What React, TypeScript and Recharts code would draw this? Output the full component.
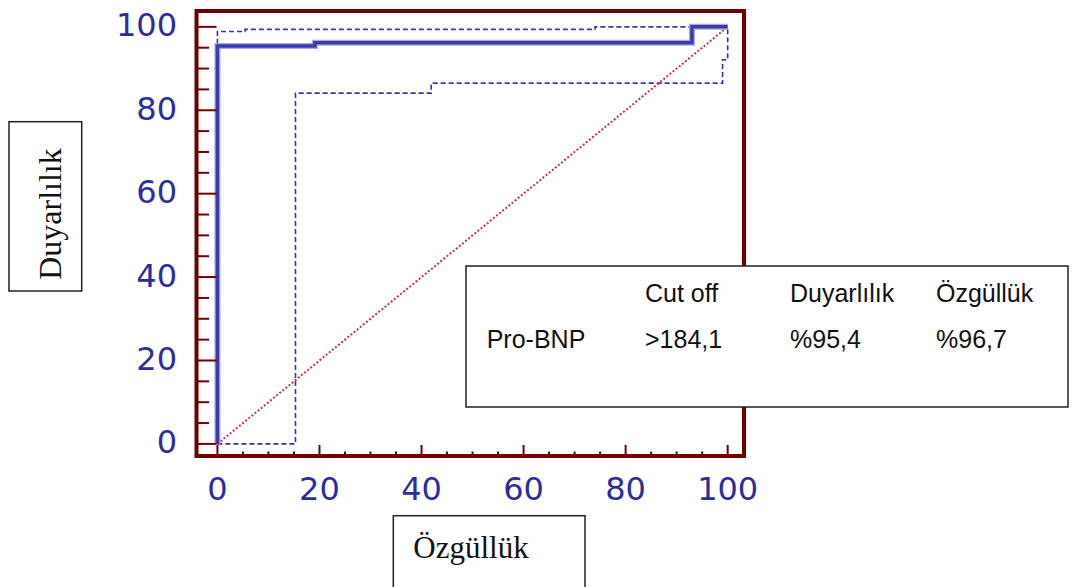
import { LineChart, Line, XAxis, YAxis, ReferenceArea } from 'recharts';

// ROC eğrisi ve %95 güven aralığı (resimden okunan köşe noktaları)
const rocCurve = [
  { x: 0, y: 0 },
  { x: 0, y: 95.4 },
  { x: 19.1, y: 95.4 },
  { x: 19.1, y: 96.2 },
  { x: 93, y: 96.2 },
  { x: 93, y: 100 },
  { x: 100, y: 100 },
];

const upperCI = [
  { x: 0, y: 0 },
  { x: 0, y: 98.9 },
  { x: 5.4, y: 98.9 },
  { x: 5.4, y: 99.4 },
  { x: 74, y: 99.4 },
  { x: 74, y: 100 },
  { x: 100, y: 100 },
];

const lowerCI = [
  { x: 0, y: 0 },
  { x: 15.3, y: 0 },
  { x: 15.3, y: 84.1 },
  { x: 41.9, y: 84.1 },
  { x: 41.9, y: 86.5 },
  { x: 99, y: 86.5 },
  { x: 99, y: 92.1 },
  { x: 100, y: 92.1 },
  { x: 100, y: 100 },
];

const diagonal = [
  { x: 0, y: 0 },
  { x: 100, y: 100 },
];

const axisTicks = [0, 5, 10, 15, 20, 25, 30, 35, 40, 45, 50, 55, 60, 65, 70, 75, 80, 85, 90, 95, 100];

const tableHeader = ['Cut off', 'Duyarlılık', 'Özgüllük'];
const tableRow = ['Pro-BNP', '>184,1', '%95,4', '%96,7'];

const FRAME = '#6e0000';
const LABEL = '#2c2ca2';
const X_DOMAIN = [-4.1, 103.2];
const Y_DOMAIN = [-2.9, 103.8];

function BottomTick(props: any) {
  const { x, y, payload } = props;
  const major = payload.value % 20 === 0;
  return (
    <g>
      <line x1={x} y1={y} x2={x} y2={y - (major ? 11 : 4.5)} stroke={FRAME} strokeWidth={2} />
      {major && (
        <text x={x} y={y + 44} textAnchor="middle" fill={LABEL}
          style={{ fontFamily: '"DejaVu Sans", sans-serif', fontSize: 32 }}>
          {payload.value}
        </text>
      )}
    </g>
  );
}

function LeftTick(props: any) {
  const { x, y, payload } = props;
  const major = payload.value % 20 === 0;
  return (
    <g>
      <line x1={x} y1={y} x2={x + (major ? 20 : 12.5)} y2={y} stroke={FRAME} strokeWidth={2} />
      {major && (
        <text x={x - 19.5} y={y + 9.5} textAnchor="end" fill={LABEL}
          style={{ fontFamily: '"DejaVu Sans", sans-serif', fontSize: 32 }}>
          {payload.value}
        </text>
      )}
    </g>
  );
}

export default function App() {
  const colX = [645, 790, 936];
  return (
    <div style={{ position: 'absolute', left: 0, top: 0, width: 1073, height: 587, background: '#fff', overflow: 'hidden' }}>
      <LineChart width={1073} height={587} margin={{ top: 11, right: 329, bottom: 71, left: 0 }}>
        <XAxis dataKey="x" type="number" domain={X_DOMAIN} ticks={axisTicks} allowDataOverflow
          height={60} axisLine={false} tickLine={false} tickSize={0} tickMargin={0}
          tick={<BottomTick />} interval={0} />
        <YAxis dataKey="y" type="number" domain={Y_DOMAIN} ticks={axisTicks} allowDataOverflow
          width={196.5} axisLine={false} tickLine={false} tickSize={0} tickMargin={0}
          tick={<LeftTick />} interval={0} />
        <ReferenceArea x1={X_DOMAIN[0]} x2={X_DOMAIN[1]} y1={Y_DOMAIN[0]} y2={Y_DOMAIN[1]}
          fill="none" stroke={FRAME} strokeWidth={4} fillOpacity={0} />
        <Line data={upperCI} dataKey="y" type="linear" stroke="#3434a8" strokeWidth={1.6}
          strokeDasharray="5 3" dot={false} isAnimationActive={false} />
        <Line data={lowerCI} dataKey="y" type="linear" stroke="#3434a8" strokeWidth={1.6}
          strokeDasharray="5 3" dot={false} isAnimationActive={false} />
        <Line data={diagonal} dataKey="y" type="linear" stroke="#c03a3a" strokeWidth={2}
          strokeDasharray="2 2" dot={false} isAnimationActive={false} />
        {/* kalın ROC çizgisinin yumuşak kenarı */}
        <Line data={rocCurve} dataKey="y" type="linear" stroke="#a8a8dc" strokeWidth={6}
          dot={false} isAnimationActive={false} />
        <Line data={rocCurve} dataKey="y" type="linear" stroke="#3b3bb0" strokeWidth={3.5}
          dot={false} isAnimationActive={false} />
      </LineChart>

      <svg width={1073} height={587} style={{ position: 'absolute', left: 0, top: 0 }}>
        {/* sonuç tablosu */}
        <rect x={466} y={266} width={602} height={141} fill="#fff" stroke="#222" strokeWidth={1.5} />
        <g style={{ fontFamily: '"Liberation Sans", Arial, sans-serif', fontSize: 25 }} fill="#111">
          {tableHeader.map((t, i) => (
            <text key={t} x={colX[i]} y={301.7}>{t}</text>
          ))}
          <text x={486.7} y={348.3}>{tableRow[0]}</text>
          {tableRow.slice(1).map((t, i) => (
            <text key={t} x={colX[i]} y={348.3}>{t}</text>
          ))}
        </g>

        {/* eksen başlıkları */}
        <rect x={9} y={121.7} width={72.7} height={169.3} fill="#fff" stroke="#222" strokeWidth={1.5} />
        <text x={0} y={0} transform="translate(61,214) rotate(-90)" textAnchor="middle" fill="#111"
          style={{ fontFamily: '"Liberation Serif", "Times New Roman", serif', fontSize: 32 }}>
          Duyarlılık
        </text>
        <rect x={393.3} y={515.7} width={191.7} height={90} fill="#fff" stroke="#222" strokeWidth={1.5} />
        <text x={413.3} y={558.3} fill="#111"
          style={{ fontFamily: '"Liberation Serif", "Times New Roman", serif', fontSize: 31 }}>
          Özgüllük
        </text>
      </svg>
    </div>
  );
}
